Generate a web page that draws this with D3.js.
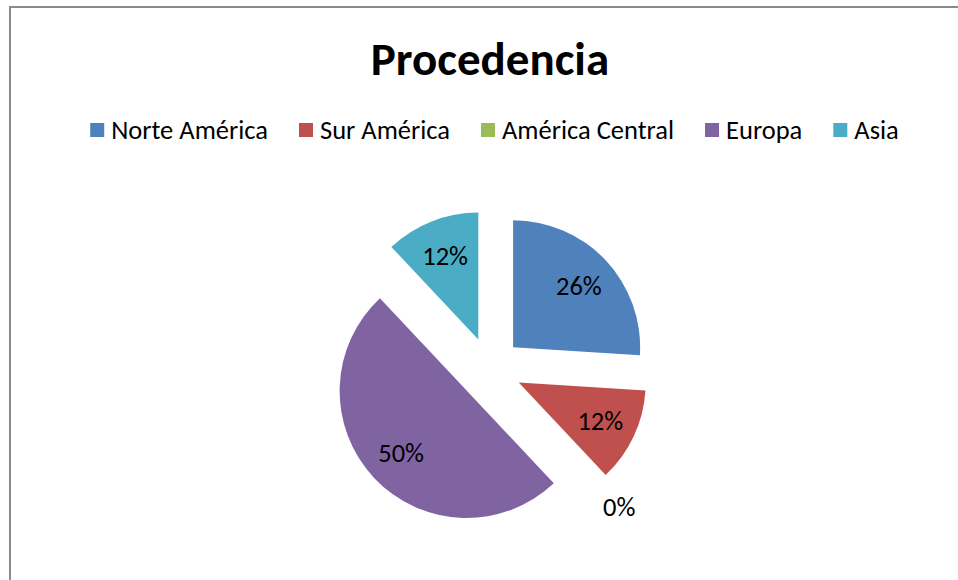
<!DOCTYPE html>
<html>
<head>
<meta charset="utf-8">
<script src="https://cdn.jsdelivr.net/npm/d3@7"></script>
<style>
    body { margin: 0; background: #ffffff; }
    svg text { font-family: Carlito, Lato, "Open Sans", sans-serif; fill: #000000; }
</style>
</head>
<body>
<div id="content_svg"></div>
<script>
// datos del grafico
const categorias = ["Norte América", "Sur América", "América Central", "Europa", "Asia"];
const valores = [26, 12, 0, 50, 12];
const colores = ["#4F81BD", "#C0504D", "#9BBB59", "#8064A2", "#4BACC6"];
const titulo = "Procedencia";

var Ancho = 958;
var Alto = 580;

var svg = d3.select("#content_svg")
    .append("svg")
    .attr("width", Ancho)
    .attr("height", Alto);

// marco gris del area del grafico
svg.append("rect")
    .attr("x", 10)
    .attr("y", 7)
    .attr("width", Ancho + 20)
    .attr("height", Alto + 20)
    .attr("fill", "#ffffff")
    .attr("stroke", "#8a8a8a")
    .attr("stroke-width", 2);

// titulo
svg.append("text")
    .attr("x", 490)
    .attr("y", 75)
    .attr("text-anchor", "middle")
    .style("font-size", "47px")
    .style("font-weight", "bold")
    .text(titulo);

// leyenda
var leyenda = svg.append("g");
var items = leyenda.selectAll("g.item")
    .data(categorias)
    .enter()
    .append("g")
    .attr("class", "item");

items.append("rect")
    .attr("x", 0)
    .attr("y", -7)
    .attr("width", 14)
    .attr("height", 14)
    .attr("fill", (d, i) => colores[i]);

items.append("text")
    .attr("x", 21)
    .attr("y", 0)
    .attr("dy", "0.35em")
    .style("font-size", "26.5px")
    .text(d => d);

var posX = 0;
items.each(function() {
    var w = this.getBBox().width;
    d3.select(this).attr("transform", "translate(" + posX + ",0)");
    posX += w + 31;
});
var totalLeyenda = posX - 31;
leyenda.attr("transform", "translate(" + (494.5 - totalLeyenda / 2) + ",130)");

// pastel separado
var centroX = 490;
var centroY = 369;
var radio = 127;
var separacion = radio * 0.25;

var total = d3.sum(valores);
var formato = d3.format(".0%");

var pie = d3.pie()
    .sort(null)
    .value(d => d);

var arco = d3.arc()
    .innerRadius(0)
    .outerRadius(radio);

var pastel = svg.append("g")
    .attr("transform", "translate(" + centroX + "," + centroY + ")");

var porciones = pastel.selectAll("g.porcion")
    .data(pie(valores))
    .enter()
    .append("g")
    .attr("class", "porcion")
    .attr("transform", function(d) {
        var medio = (d.startAngle + d.endAngle) / 2;
        return "translate(" + (separacion * Math.sin(medio)) + "," + (-separacion * Math.cos(medio)) + ")";
    });

porciones.filter(d => d.value > 0)
    .append("path")
    .attr("d", arco)
    .attr("fill", (d, i) => colores[d.index]);

// etiquetas de porcentaje
porciones.append("text")
    .attr("transform", function(d) {
        var medio = (d.startAngle + d.endAngle) / 2;
        var dist = d.value > 0 ? radio * 0.71 : radio + 30;
        return "translate(" + (dist * Math.sin(medio)) + "," + (-dist * Math.cos(medio)) + ")";
    })
    .attr("text-anchor", "middle")
    .attr("dy", "0.35em")
    .style("font-size", "26.5px")
    .text(d => formato(d.value / total));
</script>
</body>
</html>
